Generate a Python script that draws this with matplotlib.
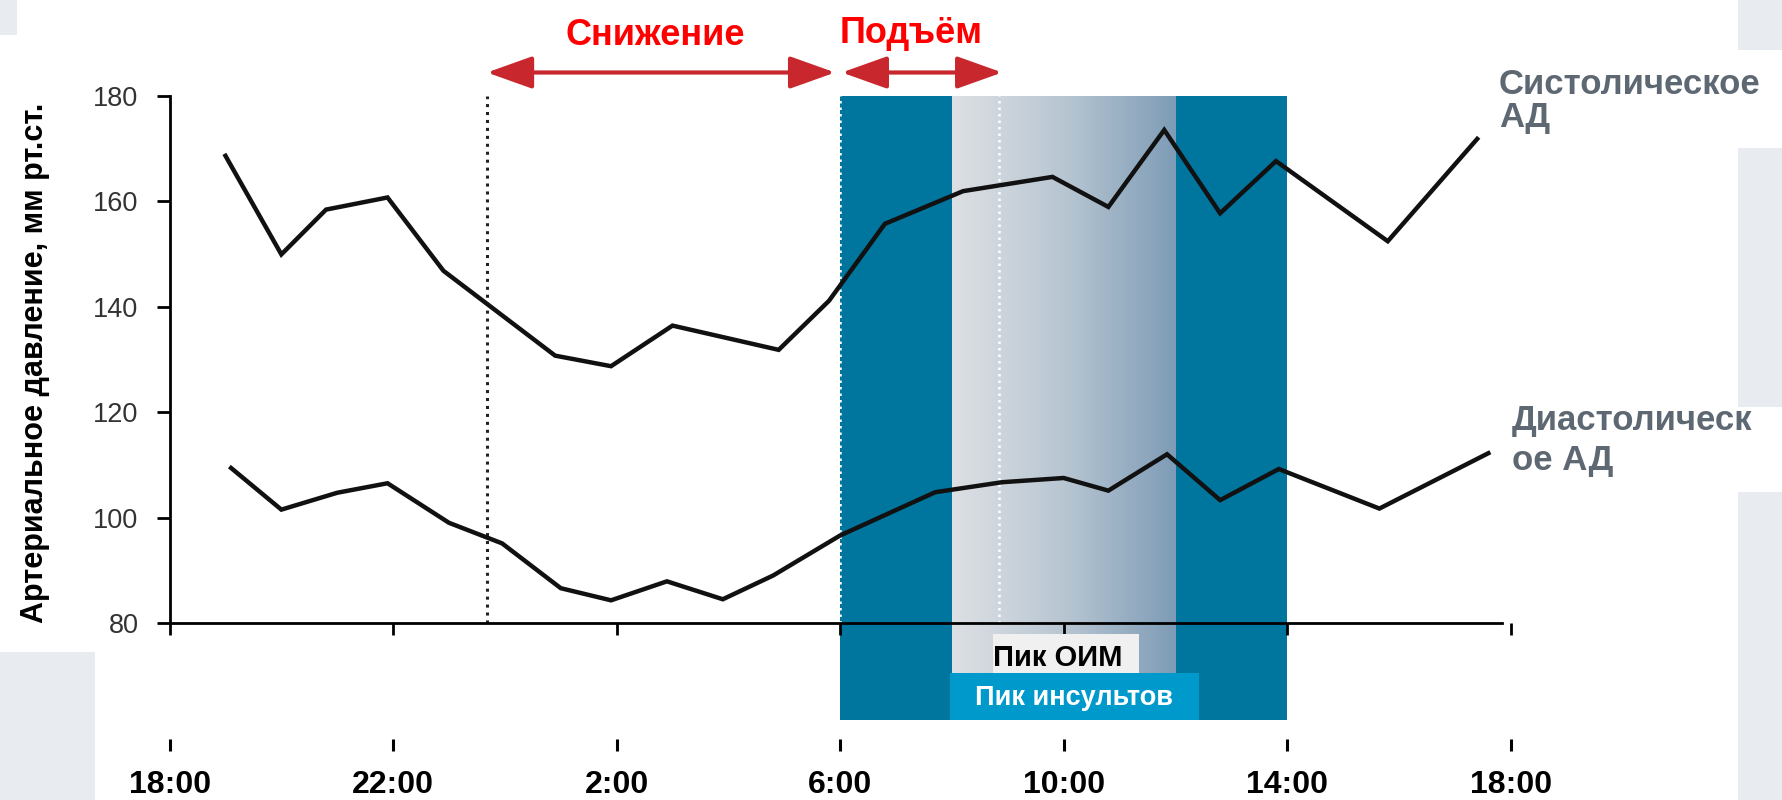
import matplotlib.pyplot as plt
from matplotlib.patches import Rectangle, FancyArrowPatch
from matplotlib.colors import LinearSegmentedColormap
import numpy as np

plt.rcParams['font.family'] = ['Liberation Sans', 'DejaVu Sans']

# time axis in hours after 18:00
sys_hours = [1.0, 2.0, 2.8, 3.9, 4.9, 6.9, 7.9, 9.0, 10.9, 11.8, 12.8, 14.2,
             15.8, 16.8, 17.8, 18.8, 19.8, 21.8, 23.4]
sys_values = [168.6, 149.9, 158.4, 160.7, 146.8, 130.7, 128.7, 136.4, 131.8, 141.1,
              155.7, 161.9, 164.6, 158.9, 173.5, 157.7, 167.6, 152.4, 171.8]

dia_hours = [1.1, 2.0, 3.0, 3.9, 5.0, 5.95, 7.0, 7.9, 8.9, 9.9, 10.8, 12.0,
             13.7, 14.9, 16.0, 16.8, 17.85, 18.8, 19.85, 21.65, 23.6]
dia_values = [109.4, 101.5, 104.7, 106.5, 99.0, 95.1, 86.6, 84.3, 87.9, 84.5, 89.0,
              96.6, 104.8, 106.7, 107.5, 105.1, 112.0, 103.3, 109.2, 101.7, 112.2]

tick_hours = [0, 4, 8, 12, 16, 20, 24]
tick_labels = ['18:00', '22:00', '2:00', '6:00', '10:00', '14:00', '18:00']
y_ticks = [80, 100, 120, 140, 160, 180]

# periods (hours after 18:00)
band_start, band_end = 12, 20          # 6:00 - 14:00
grad_start, grad_end = 14, 18          # 8:00 - 12:00
night_line = 5.68                      # dotted line before midnight
peak_line = 14.84                      # white dotted line

band_bottom = 61.6
ymin, ymax = 58, 180

W, H = 1783, 800
fig = plt.figure(figsize=(W / 100, H / 100), dpi=100)
fig.patch.set_facecolor('white')

# light panels of the slide background
for (x0, y0, x1, y1) in [(0, 0, 17, 35), (0, 652, 95, 800), (1738, 0, 1783, 50),
                         (1738, 148, 1783, 407), (1738, 492, 1783, 800)]:
    fig.patches.append(Rectangle((x0 / W, 1 - y1 / H), (x1 - x0) / W, (y1 - y0) / H,
                                 transform=fig.transFigure, fc='#e8ecf0', ec='none', zorder=0))

ax = fig.add_axes([169.6 / W, (H - 739) / H, 1341.1 / W, (739 - 95.7) / H])
ax.patch.set_visible(False)

# dark band and gradient part
ax.add_patch(Rectangle((band_start, band_bottom), band_end - band_start, ymax - band_bottom,
                       fc='#00769f', ec='none', zorder=0.5))
grad_cmap = LinearSegmentedColormap.from_list('g', ['#dde0e4', '#b8c6d2', '#7e9cb6'])
ax.imshow(np.linspace(0, 1, 256).reshape(1, -1), cmap=grad_cmap, aspect='auto',
          extent=(grad_start, grad_end, band_bottom, ymax), zorder=0.6)

# dotted markers
ax.vlines(night_line, 80, 180, colors='#222222', linestyles=(0, (1, 1.6)), lw=2.2, zorder=1)
ax.vlines([band_start, peak_line], 80, 180, colors='white', linestyles=(0, (1, 1.6)),
          lw=1.8, zorder=1)

# blood pressure curves
ax.plot(sys_hours, sys_values, color='#111111', lw=3.2, zorder=3, solid_joinstyle='miter')
ax.plot(dia_hours, dia_values, color='#111111', lw=3.2, zorder=3, solid_joinstyle='miter')

# peak boxes
ax.add_patch(Rectangle((14.73, 70.5), 2.62, 7.4, fc='#f0f0f0', ec='none', zorder=4))
ax.text(15.9, 71.85, 'Пик ОИМ', ha='center', va='baseline', fontsize=21,
        fontweight='bold', color='black', zorder=5)
ax.add_patch(Rectangle((13.96, band_bottom), 4.46, 70.5 - band_bottom, fc='#0099cc',
                       ec='none', zorder=4))
ax.text(16.19, 64.45, 'Пик инсультов', ha='center', va='baseline', fontsize=19.5,
        fontweight='bold', color='white', zorder=5)

# arrows with labels
arrow_col = '#c8282d'
for (a, b) in [(night_line, 11.91), (12.03, 14.9)]:
    ax.add_patch(FancyArrowPatch((a, 184.4), (b, 184.4),
                                 arrowstyle='<|-|>,head_length=28,head_width=10',
                                 mutation_scale=1, lw=3, color=arrow_col,
                                 shrinkA=0, shrinkB=0, clip_on=False))
ax.text(8.69, 189.6, 'Снижение', ha='center', va='baseline', fontsize=26,
        fontweight='bold', color='#ff0000', clip_on=False)
ax.text(13.27, 190.0, 'Подъём', ha='center', va='baseline', fontsize=26,
        fontweight='bold', color='#ff0000', clip_on=False)

# series labels
lab_col = '#5e6873'
ax.text(23.79, 180.3, 'Систолическое', fontsize=25, fontweight='bold', color=lab_col,
        va='baseline', clip_on=False)
ax.text(23.79, 174.0, 'АД', fontsize=25, fontweight='bold', color=lab_col,
        va='baseline', clip_on=False)
ax.text(24.02, 116.6, 'Диастолическ', fontsize=25, fontweight='bold', color=lab_col,
        va='baseline', clip_on=False)
ax.text(24.02, 109.0, 'ое АД', fontsize=25, fontweight='bold', color=lab_col,
        va='baseline', clip_on=False)

# axes styling
ax.set_xlim(0, 24)
ax.set_ylim(ymin, ymax)
for s in ['top', 'right']:
    ax.spines[s].set_visible(False)
ax.spines['left'].set_bounds(80, 180)
ax.spines['left'].set_linewidth(2)
ax.spines['bottom'].set_position(('data', 80))
ax.spines['bottom'].set_bounds(0, 23.85)
ax.spines['bottom'].set_linewidth(2)
ax.spines['bottom'].set_zorder(3.5)
ax.set_yticks(y_ticks)
ax.tick_params(axis='y', direction='out', length=9.4, width=2, pad=13,
               labelsize=19.5, labelcolor='#333333')
ax.set_xticks(tick_hours)
ax.tick_params(axis='x', direction='out', length=8.5, width=2, labelbottom=False)

sec = ax.secondary_xaxis(0)
sec.spines['bottom'].set_visible(False)
sec.set_xticks(tick_hours)
sec.set_xticklabels(tick_labels)
sec.tick_params(axis='x', direction='out', length=8.6, width=2.2, pad=14, labelsize=23)
for t in sec.get_xticklabels():
    t.set_fontweight('bold')

fig.text(35 / W, 1 - 363 / H, 'Артериальное давление, мм рт.ст.', rotation=90,
         ha='center', va='center', fontsize=22, fontweight='bold', color='black')

fig.savefig('out.png', dpi=100)
